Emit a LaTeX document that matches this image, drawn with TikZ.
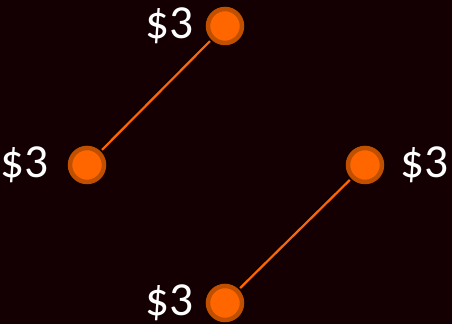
\documentclass[tikz,border=0pt]{standalone}
\usepackage{fontspec}
\setmainfont{Carlito}
\usepackage{xcolor}
\usetikzlibrary{positioning}

\definecolor{bgdark}{RGB}{20,0,2}
\definecolor{dotfill}{RGB}{255,102,0}
\definecolor{dotedge}{RGB}{192,80,0}

\tikzset{
  dot/.style={circle,fill=dotfill,draw=dotedge,line width=0.045cm,minimum size=0.34cm,inner sep=0pt},
  price/.style={text=white,font=\fontsize{13.5}{16}\selectfont},
  link/.style={dotfill,line width=0.022cm,shorten <=0.02cm,shorten >=0.02cm}
}

\begin{document}
\begin{tikzpicture}
\fill[bgdark] (0,0) rectangle (4.52,3.24);
\useasboundingbox (0,0) rectangle (4.52,3.24);
\node[dot,label={[price,label distance=0.0cm]left:\$3}] (top) at (2.25,2.98) {};
\node[dot,label={[price,label distance=0.07cm]left:\$3}] (lft) at (0.87,1.59) {};
\node[dot,label={[price,label distance=0.04cm]right:\$3}] (rgt) at (3.65,1.59) {};
\node[dot,label={[price,label distance=0.0cm]left:\$3}] (bot) at (2.25,0.21) {};
\draw[link] (lft) -- (top);
\draw[link] (bot) -- (rgt);
\end{tikzpicture}
\end{document}
